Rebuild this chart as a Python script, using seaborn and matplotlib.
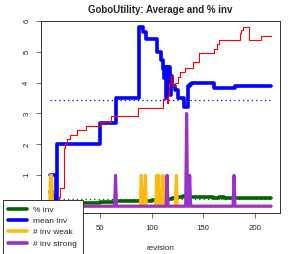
import numpy as np
import pandas as pd
import seaborn as sns
import matplotlib.pyplot as plt
from matplotlib.lines import Line2D

# mean inv (change points, step line)
mean_rev = [1, 7, 8, 50, 65, 88, 92, 95, 105, 109, 111, 112, 113, 114, 115, 116, 117, 118, 119, 120, 123, 126, 131, 135, 137, 139, 161, 181, 216]
mean_val = [1.0, 0.0, 2.0, 2.68, 3.5, 5.8, 5.62, 5.4, 5.0, 4.72, 4.45, 4.15, 4.5, 3.5, 4.5, 4.1, 4.5, 3.6, 4.2, 3.9, 3.75, 3.5, 3.2, 3.9, 3.95, 4.0, 3.82, 3.9, 3.9]

# red cumulative line (change points)
red_rev = [1, 10, 11, 15, 16, 18, 21, 28, 36, 50, 61, 87, 111, 115, 116, 117, 119, 121, 123, 126, 128, 132, 140, 146, 161, 163, 165, 186, 187, 189, 195, 206, 216]
red_val = [0.0, 0.3, 0.58, 1.87, 2.0, 2.16, 2.3, 2.47, 2.6, 2.73, 2.92, 3.19, 3.48, 3.33, 3.6, 4.0, 4.2, 3.9, 4.0, 4.17, 4.35, 4.48, 4.66, 4.95, 5.1, 5.25, 5.36, 5.6, 5.7, 5.8, 5.36, 5.5, 5.5]

# % inv (change points)
pct_rev = [1, 2, 3, 4, 5, 6, 7, 9, 50, 65, 100, 114, 116, 118, 120, 122, 124, 126, 130, 135, 140, 150, 160, 165, 170, 180, 186, 190, 216]
pct_val = [0.45, 0.5, 0.35, 0.28, 0.22, 0.18, 0.14, 0.1, 0.15, 0.18, 0.19, 0.2, 0.22, 0.24, 0.26, 0.28, 0.3, 0.31, 0.33, 0.31, 0.3, 0.29, 0.28, 0.3, 0.28, 0.26, 0.25, 0.27, 0.27]

# # inv weak / strong (spikes)
weak_rev = [1, 2, 3, 4, 89, 90, 91, 93, 94, 95, 104, 105, 106, 107, 108, 110, 111, 112, 123, 124, 125, 216]
weak_val = [0, 1, 1, 0, 0, 1, 0, 0, 1, 0, 0, 1, 0, 1, 0, 0, 1, 0, 0, 1, 0, 0]
strong_rev = [1, 64, 65, 66, 114, 115, 116, 133, 134, 135, 136, 137, 138, 179, 180, 181, 216]
strong_val = [0, 0, 1, 0, 0, 1, 0, 0, 3, 0, 0, 1, 0, 0, 1, 0, 0]

# average reference lines
mean_avg = 3.44
pct_avg = 0.22
rev_range = [1, 216]

sns.set_style("white")
plt.rcParams['font.family'] = ['Liberation Sans', 'DejaVu Sans']

fig = plt.figure(figsize=(2.94, 2.54), dpi=100)
ax = fig.add_axes([0.1384, 0.1602, 0.814, 0.7583])

green = "#006400"
blue = "#0000FF"
orange = "#FFB90F"
purple = "#9932CC"
red = "#FF0000"

dots = (0, (1, 2.5))
sns.lineplot(x=rev_range, y=[pct_avg, pct_avg], ax=ax, color=green, lw=0.9, linestyle=dots, zorder=1)
sns.lineplot(x=rev_range, y=[mean_avg, mean_avg], ax=ax, color=blue, lw=0.9, linestyle=dots, zorder=1)

sns.lineplot(x=pct_rev, y=pct_val, ax=ax, color=green, lw=2.6, drawstyle='steps-post', estimator=None, zorder=2)
sns.lineplot(x=mean_rev, y=mean_val, ax=ax, color=blue, lw=2.6, drawstyle='steps-post', estimator=None, zorder=2)
sns.lineplot(x=weak_rev, y=weak_val, ax=ax, color=orange, lw=2.2, estimator=None, sort=False, zorder=3)
sns.lineplot(x=strong_rev, y=strong_val, ax=ax, color=purple, lw=2.2, estimator=None, sort=False, zorder=3)
sns.lineplot(x=red_rev, y=red_val, ax=ax, color=red, lw=0.8, drawstyle='steps-post', estimator=None, zorder=4)

ax.set_xlim(-7.6, 224.6)
ax.set_ylim(-0.23, 6.0)
ax.set_xticks([50, 100, 150, 200])
ax.set_yticks([1, 2, 3, 4, 5, 6])
ax.tick_params(axis='both', which='both', length=3.5, width=0.6, color='#555555',
               labelsize=5.6, direction='out', bottom=True, left=True)
ax.tick_params(axis='x', pad=5)
ax.tick_params(axis='y', pad=4)
for lab in ax.get_yticklabels():
    lab.set_rotation(90)
    lab.set_va('center')
for s in ax.spines.values():
    s.set_color('#333333')
    s.set_linewidth(0.7)

ax.set_xlabel("revision", fontsize=5.9, labelpad=9)
ax.set_ylabel("")
ax.set_title("GoboUtility: Average and % inv", fontsize=7.0, fontweight='bold', pad=5.5)

handles = [Line2D([], [], color=green, lw=2.6), Line2D([], [], color=blue, lw=2.6),
           Line2D([], [], color=orange, lw=2.6), Line2D([], [], color=purple, lw=2.6)]
labels = ["% inv", "mean inv", "# inv weak", "# inv strong"]
leg = ax.legend(handles, labels, loc='upper left', bbox_to_anchor=(-0.159, 0.069),
                borderaxespad=0, fontsize=6.0, frameon=True, fancybox=False,
                framealpha=1, edgecolor='#333333', handlelength=2.2, handletextpad=0.8,
                labelspacing=0.42, borderpad=0.7)
leg.get_frame().set_linewidth(0.7)
leg.set_zorder(10)

fig.savefig("out.png", dpi=100)
